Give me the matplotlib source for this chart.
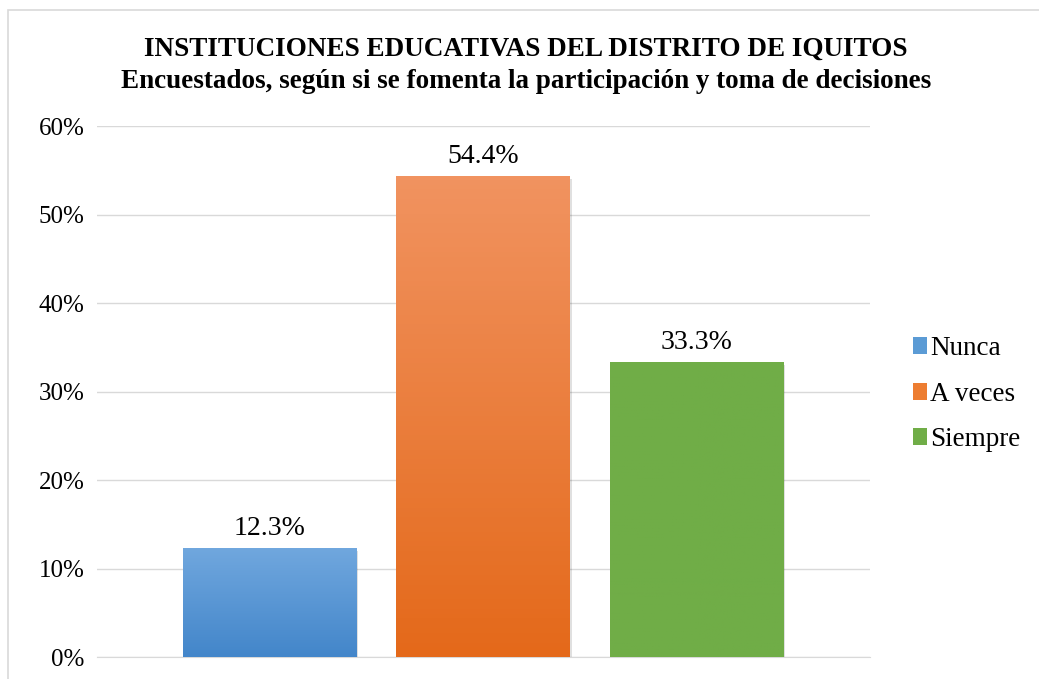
import numpy as np
import matplotlib.pyplot as plt
from matplotlib.patches import Rectangle
from matplotlib.ticker import PercentFormatter

categories = ['Nunca', 'A veces', 'Siempre']
values = [12.3, 54.4, 33.3]
colors_top = ['#70A7DE', '#F19360', '#70AD47']
colors_bot = ['#4386CA', '#E4691A', '#70AD47']
colors_leg = ['#5B9BD5', '#ED7D31', '#70AD47']

plt.rcParams['font.family'] = ['Liberation Serif', 'DejaVu Serif']

fig = plt.figure(figsize=(10.39, 6.79), dpi=100)
ax = fig.add_axes([0.0934, 0.0324, 0.744, 0.782])

x = np.arange(len(categories))
width = 0.812
bars = ax.bar(x, values, width=width, color=colors_bot, zorder=3)

# vertical gradient + light shadow
for b, ct, cb, cl, lab in zip(bars, colors_top, colors_bot, colors_leg, categories):
    x0, w, h = b.get_x(), b.get_width(), b.get_height()
    top = np.array(plt.matplotlib.colors.to_rgb(ct))
    bot = np.array(plt.matplotlib.colors.to_rgb(cb))
    t = np.linspace(0, 1, 100)[:, None]
    grad = (bot * (1 - t) + top * t)[:, None, :]
    im = ax.imshow(grad, extent=[x0, x0 + w, 0, h], origin='lower',
                   aspect='auto', zorder=4)
    im.set_clip_path(b)
    sh = Rectangle((x0 + 0.01, -0.35), w, h, color='#000000', alpha=0.12,
                   zorder=2, lw=0)
    ax.add_patch(sh)
    ax.bar([0], [0], color=cl, label=lab)  # legend proxy
    ax.text(b.get_x() + w / 2, h + 0.8, f'{h:.1f}%', ha='center', va='bottom',
            fontsize=20, zorder=5)

ax.set_xlim(-0.81, 2.815)
ax.set_ylim(0, 60)
ax.set_yticks(np.arange(0, 61, 10))
ax.yaxis.set_major_formatter(PercentFormatter(decimals=0))
ax.set_xticks([])
ax.tick_params(axis='y', length=0, labelsize=18, pad=9)
ax.grid(axis='y', color='#D9D9D9', lw=1, zorder=0)
for s in ['top', 'right', 'left']:
    ax.spines[s].set_visible(False)
ax.spines['bottom'].set_color('#D9D9D9')

fig.text(0.506, 0.927, 'INSTITUCIONES EDUCATIVAS DEL DISTRITO DE IQUITOS',
         ha='center', va='center', fontsize=19.5, fontweight='bold')
fig.text(0.506, 0.880, 'Encuestados, según si se fomenta la participación y toma de decisiones',
         ha='center', va='center', fontsize=19.5, fontweight='bold')

leg = ax.legend(loc='center left', bbox_to_anchor=(1.0556, 0.495), frameon=False,
                fontsize=19.5, handlelength=0.5, handleheight=0.6,
                handletextpad=0.12, labelspacing=0.75, borderpad=0,
                borderaxespad=0)

fig.add_artist(Rectangle((0.0075, -0.1), 1.2, 1.085, transform=fig.transFigure,
                         fill=False, edgecolor='#D9D9D9', lw=1.2))

fig.savefig('out.png', dpi=100)
